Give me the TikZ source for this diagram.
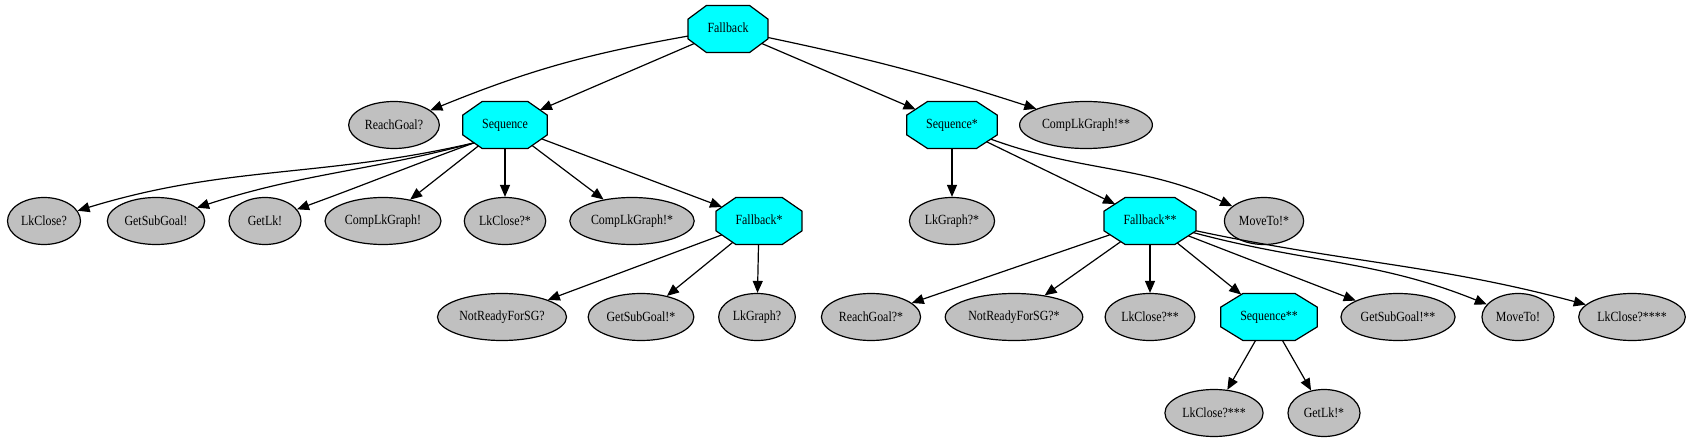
\documentclass[tikz,border=0pt]{standalone}
\usepackage{fontspec}
\setmainfont{Liberation Serif}[FakeStretch=0.85]
\usetikzlibrary{arrows.meta,shapes.geometric}
\definecolor{leafGray}{RGB}{192,192,192}
\definecolor{ctrlCyan}{RGB}{0,255,255}

\makeatletter
\pgfdeclareshape{octagonBox}{
  \inheritsavedanchors[from=rectangle]
  \inheritanchor[from=rectangle]{center}
  \inheritanchor[from=rectangle]{text}
  \inheritanchor[from=rectangle]{north}
  \inheritanchor[from=rectangle]{south}
  \inheritanchor[from=rectangle]{east}
  \inheritanchor[from=rectangle]{west}
  \backgroundpath{
    \pgf@process{\southwest}\edef\octL{\the\pgf@x}\edef\octB{\the\pgf@y}
    \pgf@process{\northeast}\edef\octR{\the\pgf@x}\edef\octT{\the\pgf@y}
    \pgfmathsetmacro\octCx{0.23*(\octR-\octL)}
    \pgfmathsetmacro\octCy{0.29*(\octT-\octB)}
    \pgfpathmoveto{\pgfpoint{\octL+\octCx}{\octT}}
    \pgfpathlineto{\pgfpoint{\octR-\octCx}{\octT}}
    \pgfpathlineto{\pgfpoint{\octR}{\octT-\octCy}}
    \pgfpathlineto{\pgfpoint{\octR}{\octB+\octCy}}
    \pgfpathlineto{\pgfpoint{\octR-\octCx}{\octB}}
    \pgfpathlineto{\pgfpoint{\octL+\octCx}{\octB}}
    \pgfpathlineto{\pgfpoint{\octL}{\octB+\octCy}}
    \pgfpathlineto{\pgfpoint{\octL}{\octT-\octCy}}
    \pgfpathclose
  }
  \anchorborder{
    \edef\octDx{\the\pgf@x}\edef\octDy{\the\pgf@y}
    \pgf@process{\southwest}\edef\octL{\the\pgf@x}\edef\octB{\the\pgf@y}
    \pgf@process{\northeast}\edef\octR{\the\pgf@x}\edef\octT{\the\pgf@y}
    \pgfmathsetmacro\octA{(\octR-\octL)/2}
    \pgfmathsetmacro\octH{(\octT-\octB)/2}
    \pgfmathsetmacro\octCx{0.46*\octA}
    \pgfmathsetmacro\octCy{0.58*\octH}
    \pgfmathsetmacro\octK{\octA*\octCy+\octH*\octCx-\octCx*\octCy}
    \pgfmathsetmacro\octN{max(veclen(\octDx,\octDy),0.001)}
    \pgfmathsetmacro\octUx{\octDx/\octN}
    \pgfmathsetmacro\octUy{\octDy/\octN}
    \pgfmathsetmacro\octX{max(abs(\octUx),0.01)}
    \pgfmathsetmacro\octY{max(abs(\octUy),0.01)}
    \pgfmathsetmacro\octS{min(min(\octA/\octX,\octH/\octY),\octK/(\octX*\octCy+\octY*\octCx))}
    \pgfmathsetlength\pgf@xa{(\octL+\octR)/2+\octS*\octUx}
    \pgfmathsetlength\pgf@ya{(\octB+\octT)/2+\octS*\octUy}
    \pgf@x=\pgf@xa \pgf@y=\pgf@ya
  }
}
\makeatother

\tikzstyle{ctrlNode}=[draw,fill=ctrlCyan,shape=octagonBox,inner xsep=19.5pt,inner ysep=0pt,minimum height=47pt,text height=10pt,text depth=3pt,outer sep=0pt]
\tikzstyle{leafNode}=[draw,fill=leafGray,ellipse,minimum width=72pt,minimum height=47pt,inner xsep=3pt,inner ysep=0pt]
\tikzstyle{treeEdge}=[-{Triangle[length=12pt,width=10pt]}]

\begin{document}
\begin{tikzpicture}[x=1pt,y=1pt,font=\fontsize{14}{16}\selectfont,line width=1.2pt]
\useasboundingbox (0,0) rectangle (1688,-443);
\node [ctrlNode] (r) at (728,-29) {Fallback};

\node [leafNode] (reach1) at (394,-125) {ReachGoal?};
\node [ctrlNode] (seq1) at (505,-125) {Sequence};
\node [ctrlNode] (seq2) at (952,-125) {Sequence*};
\node [leafNode] (comp3) at (1086,-125) {CompLkGraph!**};

\node [leafNode] (lkc1) at (44,-221) {LkClose?};
\node [leafNode] (getsg1) at (156,-221) {GetSubGoal!};
\node [leafNode] (getlk1) at (265,-221) {GetLk!};
\node [leafNode] (comp1) at (383,-221) {CompLkGraph!};
\node [leafNode] (lkc2) at (505,-221) {LkClose?*};
\node [leafNode] (comp2) at (632,-221) {CompLkGraph!*};
\node [ctrlNode] (fb1) at (759,-221) {Fallback*};
\node [leafNode] (lkg2) at (952,-221) {LkGraph?*};
\node [ctrlNode] (fb2) at (1150,-221) {Fallback**};
\node [leafNode] (mv1) at (1264,-221) {MoveTo!*};

\node [leafNode] (nr1) at (502,-317) {NotReadyForSG?};
\node [leafNode] (getsg2) at (641,-317) {GetSubGoal!*};
\node [leafNode] (lkg1) at (757,-317) {LkGraph?};
\node [leafNode] (reach2) at (871,-317) {ReachGoal?*};
\node [leafNode] (nr2) at (1014,-317) {NotReadyForSG?*};
\node [leafNode] (lkc3) at (1150,-317) {LkClose?**};
\node [ctrlNode] (seq3) at (1269,-317) {Sequence**};
\node [leafNode] (getsg3) at (1398,-317) {GetSubGoal!**};
\node [leafNode] (mv2) at (1518,-317) {MoveTo!};
\node [leafNode] (lkc5) at (1632,-317) {LkClose?****};

\node [leafNode] (lkc4) at (1214,-413) {LkClose?***};
\node [leafNode] (getlk2) at (1324,-413) {GetLk!*};

\draw [treeEdge] (r) to[bend right=6] (reach1);
\draw [treeEdge] (r) -- (seq1);
\draw [treeEdge] (r) -- (seq2);
\draw [treeEdge] (r) to[bend left=3] (comp3);

\draw [treeEdge] (seq1.210) to[out=193,in=17] (lkc1);
\draw [treeEdge] (seq1.210) to[out=195,in=18] (getsg1);
\draw [treeEdge] (seq1.210) to[out=200,in=20] (getlk1);
\draw [treeEdge] (seq1) -- (comp1);
\draw [treeEdge] (seq1) -- (lkc2);
\draw [treeEdge] (seq1) -- (comp2);
\draw [treeEdge] (seq1) -- (fb1);

\draw [treeEdge] (fb1) -- (nr1);
\draw [treeEdge] (fb1) -- (getsg2);
\draw [treeEdge] (fb1) -- (lkg1);

\draw [treeEdge] (seq2) -- (lkg2);
\draw [treeEdge] (seq2) -- (fb2);
\draw [treeEdge] (seq2) to[out=-20,in=155] (mv1);

\draw [treeEdge] (fb2) -- (reach2);
\draw [treeEdge] (fb2) -- (nr2);
\draw [treeEdge] (fb2) -- (lkc3);
\draw [treeEdge] (fb2) -- (seq3);
\draw [treeEdge] (fb2) -- (getsg3);
\draw [treeEdge] (fb2) to[out=-15,in=158] (mv2);
\draw [treeEdge] (fb2) to[out=-12,in=165] (lkc5);

\draw [treeEdge] (seq3) -- (lkc4);
\draw [treeEdge] (seq3) -- (getlk2);
\end{tikzpicture}
\end{document}
